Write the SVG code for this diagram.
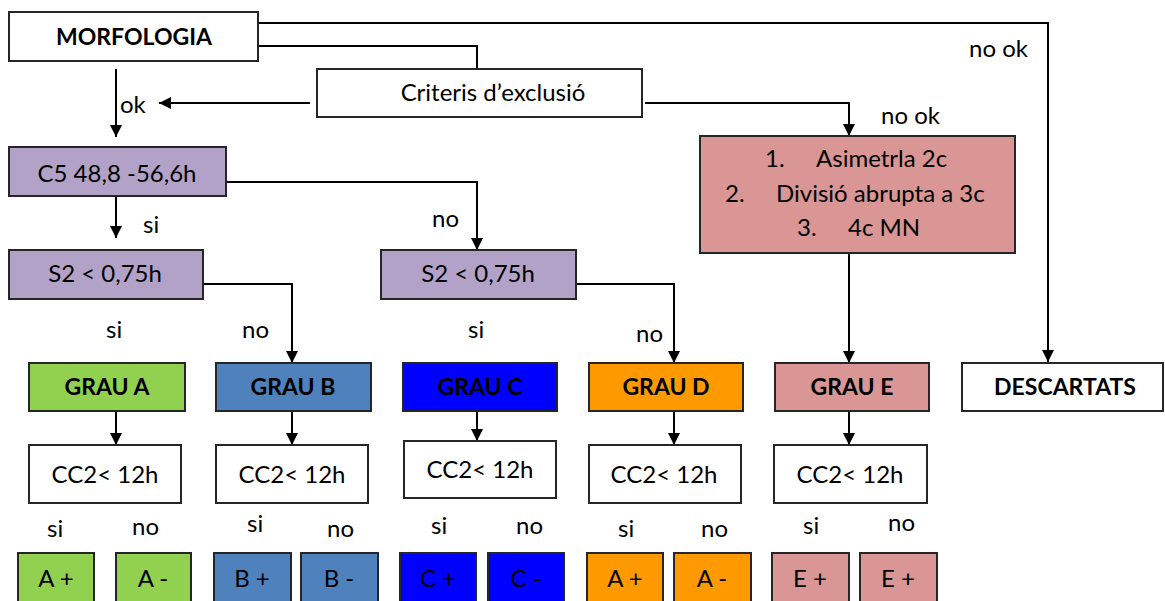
<svg xmlns="http://www.w3.org/2000/svg" width="1165" height="601" viewBox="0 0 1165 601">
<defs>
<marker id="arr" markerUnits="userSpaceOnUse" markerWidth="12" markerHeight="12" viewBox="0 0 12 12" refX="12" refY="6" orient="auto">
<path d="M0,0 L12,6 L0,12 Z" fill="#000"/>
</marker>
<style>
.b{stroke:#262626;stroke-width:2}
.t{font-family:Lato,"Liberation Sans",sans-serif;font-size:24px;fill:#000;text-anchor:middle}
.bt{font-family:Lato,"Liberation Sans",sans-serif;font-size:23px;font-weight:bold;fill:#000;text-anchor:middle}
.l{font-family:Lato,"Liberation Sans",sans-serif;font-size:24px;fill:#000}
.c{fill:none;stroke:#000;stroke-width:2}
.ca{fill:none;stroke:#000;stroke-width:2;marker-end:url(#arr)}
.w{fill:#fff}.p{fill:#b3a2c7}.g{fill:#92d050}.bl{fill:#4f81bd}.bb{fill:#0000ff}.o{fill:#ff9900}.pk{fill:#d99694}
</style>
</defs>
<rect width="1165" height="601" fill="#fff"/>
<g id="connectors">
<path class="ca" d="M258,23 H1048 V362"/>
<path class="c" d="M258,46 H477 V69"/>
<path class="ca" d="M310,103 H159"/>
<path class="ca" d="M116,69 V137"/>
<path class="ca" d="M645,103 H849 V136"/>
<path class="ca" d="M116,196 V238"/>
<path class="ca" d="M226,182 H477 V250"/>
<path class="ca" d="M203,284 H292 V363"/>
<path class="ca" d="M576,284 H674 V363"/>
<path class="ca" d="M849,253 V363"/>
<path class="ca" d="M116,411 V445"/>
<path class="ca" d="M292,411 V445"/>
<path class="ca" d="M477,411 V441"/>
<path class="ca" d="M674,411 V445"/>
<path class="ca" d="M849,411 V445"/>
</g>
<g id="labels">
<text class="l" x="120" y="113">ok</text>
<text class="l" x="969" y="57">no ok</text>
<text class="l" x="881" y="124">no ok</text>
<text class="l" x="143" y="233">si</text>
<text class="l" x="432" y="227">no</text>
<text class="l" x="106" y="338">si</text>
<text class="l" x="242" y="338">no</text>
<text class="l" x="468" y="338">si</text>
<text class="l" x="636" y="342">no</text>
<text class="l" x="47" y="537">si</text>
<text class="l" x="132" y="535">no</text>
<text class="l" x="247" y="532">si</text>
<text class="l" x="327" y="537">no</text>
<text class="l" x="431" y="534">si</text>
<text class="l" x="516" y="534">no</text>
<text class="l" x="618" y="537">si</text>
<text class="l" x="701" y="537">no</text>
<text class="l" x="803" y="534">si</text>
<text class="l" x="888" y="531">no</text>
</g>
<g id="morfologia"><rect class="b w" x="9" y="12" width="249" height="49"/><text class="bt" x="134" y="45">MORFOLOGIA</text></g>
<g id="criteris"><rect class="b w" x="317" y="69" width="325" height="48"/><text class="t" x="493" y="101">Criteris d’exclusió</text></g>
<g id="c5"><rect class="b p" x="9" y="147" width="217" height="49"/><text class="t" x="117" y="182">C5 48,8 -56,6h</text></g>
<g id="exclusio"><rect class="b pk" x="700" y="136" width="315" height="117"/>
<text class="l" x="765" y="167">1.</text><text class="l" x="816" y="167">Asimetrla 2c</text>
<text class="l" x="725" y="202">2.</text><text class="l" x="776" y="202">Divisió abrupta a 3c</text>
<text class="l" x="797" y="236">3.</text><text class="l" x="848" y="236">4c MN</text></g>
<g id="s2a"><rect class="b p" x="9" y="250" width="194" height="49"/><text class="t" x="105" y="282">S2 &lt; 0,75h</text></g>
<g id="s2b"><rect class="b p" x="381" y="250" width="195" height="49"/><text class="t" x="478" y="282">S2 &lt; 0,75h</text></g>
<g id="grauA"><rect class="b g" x="29" y="363" width="156" height="48"/><text class="bt" x="107" y="395">GRAU A</text></g>
<g id="grauB"><rect class="b bl" x="216" y="363" width="155" height="48"/><text class="bt" x="293" y="395">GRAU B</text></g>
<g id="grauC"><rect class="b bb" x="403" y="363" width="154" height="48"/><text class="bt" x="480" y="395">GRAU C</text></g>
<g id="grauD"><rect class="b o" x="589" y="363" width="154" height="48"/><text class="bt" x="666" y="395">GRAU D</text></g>
<g id="grauE"><rect class="b pk" x="775" y="363" width="154" height="48"/><text class="bt" x="852" y="395">GRAU E</text></g>
<g id="descartats"><rect class="b w" x="962" y="363" width="201" height="48"/><text class="bt" x="1065" y="395">DESCARTATS</text></g>
<g id="cc2A"><rect class="b w" x="29" y="445" width="152" height="58"/><text class="t" x="105" y="483">CC2&lt; 12h</text></g>
<g id="cc2B"><rect class="b w" x="216" y="445" width="152" height="58"/><text class="t" x="292" y="483">CC2&lt; 12h</text></g>
<g id="cc2C"><rect class="b w" x="404" y="441" width="152" height="57"/><text class="t" x="480" y="478">CC2&lt; 12h</text></g>
<g id="cc2D"><rect class="b w" x="589" y="445" width="152" height="58"/><text class="t" x="664" y="483">CC2&lt; 12h</text></g>
<g id="cc2E"><rect class="b w" x="774" y="445" width="153" height="58"/><text class="t" x="850" y="483">CC2&lt; 12h</text></g>
<g id="aplus"><rect class="b g" x="18" y="553" width="76" height="60"/><text class="t" x="56" y="587">A +</text></g>
<g id="aminus"><rect class="b g" x="116" y="553" width="75" height="60"/><text class="t" x="153" y="587">A -</text></g>
<g id="bplus"><rect class="b bl" x="214" y="553" width="77" height="60"/><text class="t" x="252" y="587">B +</text></g>
<g id="bminus"><rect class="b bl" x="301" y="553" width="77" height="60"/><text class="t" x="339" y="587">B -</text></g>
<g id="cplus"><rect class="b bb" x="400" y="553" width="76" height="60"/><text class="t" x="438" y="587">C +</text></g>
<g id="cminus"><rect class="b bb" x="488" y="553" width="76" height="60"/><text class="t" x="526" y="587">C -</text></g>
<g id="dplus"><rect class="b o" x="587" y="553" width="76" height="60"/><text class="t" x="625" y="587">A +</text></g>
<g id="dminus"><rect class="b o" x="674" y="553" width="77" height="60"/><text class="t" x="712" y="587">A -</text></g>
<g id="eplus"><rect class="b pk" x="772" y="553" width="77" height="60"/><text class="t" x="810" y="587">E +</text></g>
<g id="eplus2"><rect class="b pk" x="860" y="553" width="77" height="60"/><text class="t" x="898" y="587">E +</text></g>
</svg>
